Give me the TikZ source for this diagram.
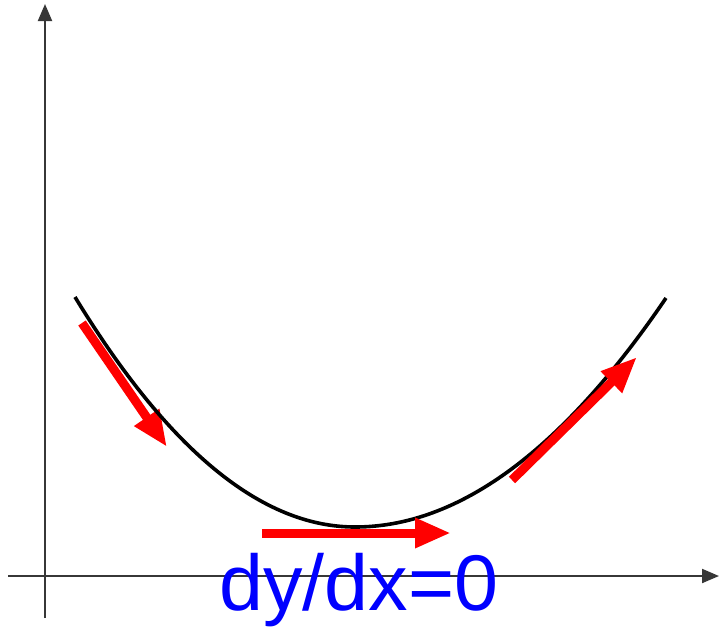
\documentclass[tikz,border=0pt]{standalone}
\usepackage{fontspec}
\setmainfont{Liberation Sans}
\usetikzlibrary{arrows.meta}
\definecolor{axisgray}{RGB}{55,55,55}
\definecolor{pred}{RGB}{255,0,0}
\definecolor{pblue}{RGB}{0,0,255}
\tikzset{
  axisline/.style={draw=axisgray, line width=2pt, -{Triangle[length=17pt,width=14pt]}},
  curveline/.style={draw=black, line width=3.6pt},
  slopearrow/.style={draw=pred, line width=9pt, -{Triangle[length=36pt,width=28pt]}},
  labeltext/.style={text=pblue, inner sep=0pt, anchor=base west, font=\fontsize{79}{82}\selectfont}
}
\begin{document}
\begin{tikzpicture}[x=1pt,y=-1pt]
\useasboundingbox (0,0) rectangle (720,627);
% axes
\coordinate (ybot) at (45,618);
\coordinate (ytop) at (45,4);
\coordinate (xleft) at (8,576);
\coordinate (xright) at (719,576);
\draw[axisline] (ybot) -- (ytop);
\draw[axisline] (xleft) -- (xright);
% left slope arrow
\coordinate (a1s) at (82,323);
\coordinate (a1e) at (167,447);
\draw[slopearrow] (a1s) -- (a1e);
% curve
\coordinate (cl) at (75,297);
\coordinate (cm) at (355,527);
\coordinate (cr) at (666,298);
\draw[curveline] (cl) .. controls (168.3,450.3) and (261.7,527) .. (cm)
                 .. controls (458.7,527) and (562.3,450.7) .. (cr);
% bottom and right slope arrows
\coordinate (a2s) at (262,533);
\coordinate (a2e) at (451,533);
\draw[slopearrow] (a2s) -- (a2e);
\coordinate (a3s) at (512,480);
\coordinate (a3e) at (637,357);
\draw[slopearrow] (a3s) -- (a3e);
% label
\node[labeltext] (lbl) at (219,610) {dy/dx=0};
\end{tikzpicture}
\end{document}
